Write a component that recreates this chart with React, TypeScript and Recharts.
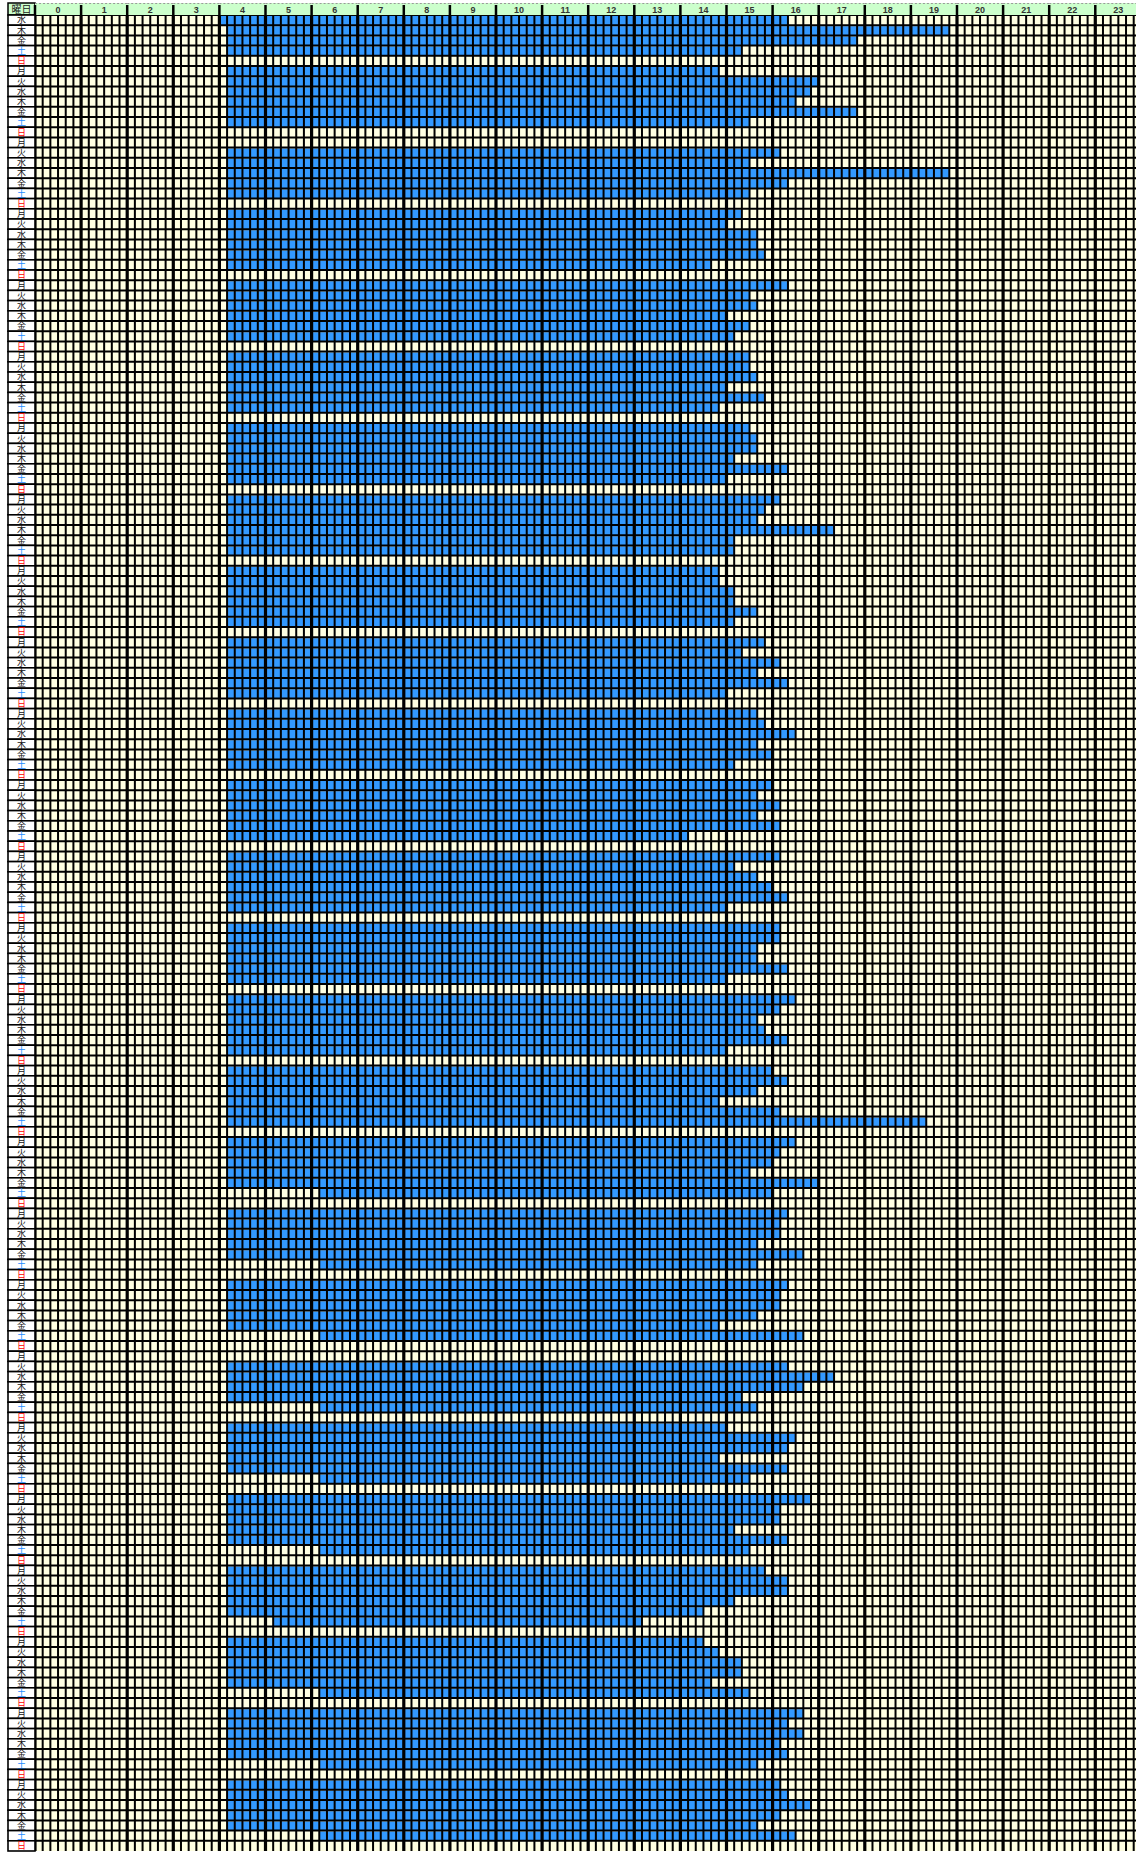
import React from "react";
import { Bar, BarChart, CartesianGrid, ReferenceLine, XAxis, YAxis } from "recharts";

// Daily time sheet: one row per day, a blue bar from start to end time,
// drawn over a 10-minute grid (0–24h).

const weekdayCycle = "月火水木金土日";
// first week starts on Wednesday, then 25 full weeks
const dayLabels = ("水木金土日" + weekdayCycle.repeat(25)).split("");

const hourLabels = [
  0, 1, 2, 3, 4, 5, 6, 7, 8, 9, 10, 11, 12, 13, 14, 15, 16, 17, 18, 19, 20, 21, 22, 23,
];

// "" = no bar that day
const startTimes = [
  "4:00", "4:10", "4:10", "4:10", "",
  "4:10", "4:10", "4:10", "4:10", "4:10", "4:10", "",
  "", "4:10", "4:10", "4:10", "4:10", "4:10", "",
  "4:10", "4:10", "4:10", "4:10", "4:10", "4:10", "",
  "4:10", "4:10", "4:10", "4:10", "4:10", "4:10", "",
  "4:10", "4:10", "4:10", "4:10", "4:10", "4:10", "",
  "4:10", "4:10", "4:10", "4:10", "4:10", "4:10", "",
  "4:10", "4:10", "4:10", "4:10", "4:10", "4:10", "",
  "4:10", "4:10", "4:10", "4:10", "4:10", "4:10", "",
  "4:10", "4:10", "4:10", "4:10", "4:10", "4:10", "",
  "4:10", "4:10", "4:10", "4:10", "4:10", "4:10", "",
  "4:10", "4:10", "4:10", "4:10", "4:10", "4:10", "",
  "4:10", "4:10", "4:10", "4:10", "4:10", "4:10", "",
  "4:10", "4:10", "4:10", "4:10", "4:10", "4:10", "",
  "4:10", "4:10", "4:10", "4:10", "4:10", "4:10", "",
  "4:10", "4:10", "4:10", "4:10", "4:10", "4:10", "",
  "4:10", "4:10", "4:10", "4:10", "4:10", "6:10", "",
  "4:10", "4:10", "4:10", "4:10", "4:10", "6:10", "",
  "4:10", "4:10", "4:10", "4:10", "4:10", "6:10", "",
  "", "4:10", "4:10", "4:10", "4:10", "6:10", "",
  "4:10", "4:10", "4:10", "4:10", "4:10", "6:10", "",
  "4:10", "4:10", "4:10", "4:10", "4:10", "6:10", "",
  "4:10", "4:10", "4:10", "4:10", "4:10", "5:10", "",
  "4:10", "4:10", "4:10", "4:10", "4:10", "6:10", "",
  "4:10", "4:10", "4:10", "4:10", "4:10", "6:10", "",
  "4:10", "4:10", "4:10", "4:10", "4:10", "6:10", "",
];

const endTimes = [
  "16:20", "19:50", "17:50", "15:20", "",
  "14:50", "17:00", "16:50", "16:30", "17:50", "15:30", "",
  "", "16:10", "15:30", "19:50", "16:20", "15:30", "",
  "15:20", "15:00", "15:40", "15:40", "15:50", "14:40", "",
  "16:20", "15:30", "15:40", "15:00", "15:30", "15:10", "",
  "15:30", "15:30", "15:40", "15:00", "15:50", "14:50", "",
  "15:30", "15:40", "15:40", "15:10", "16:20", "15:00", "",
  "16:10", "15:50", "15:40", "17:20", "15:10", "15:10", "",
  "14:50", "14:50", "15:10", "15:10", "15:40", "15:10", "",
  "15:50", "15:20", "16:10", "15:40", "16:20", "15:00", "",
  "15:40", "15:50", "16:30", "15:40", "16:00", "15:10", "",
  "16:00", "15:40", "16:10", "15:40", "16:10", "14:10", "",
  "16:10", "15:10", "15:40", "16:00", "16:20", "15:00", "",
  "16:10", "16:10", "15:40", "15:40", "16:20", "15:00", "",
  "16:30", "16:10", "15:40", "15:50", "16:20", "15:00", "",
  "16:00", "16:20", "15:40", "14:50", "16:10", "19:20", "",
  "16:30", "16:10", "16:00", "15:30", "17:00", "16:00", "",
  "16:20", "16:10", "16:10", "15:40", "16:40", "15:40", "",
  "16:20", "16:10", "16:10", "15:40", "14:50", "16:40", "",
  "", "16:20", "17:20", "16:40", "15:20", "15:40", "",
  "15:00", "16:30", "16:20", "14:50", "16:20", "15:30", "",
  "16:50", "16:10", "16:10", "15:10", "16:20", "15:30", "",
  "15:50", "16:20", "16:20", "15:10", "14:30", "13:10", "",
  "14:30", "14:50", "15:20", "15:20", "14:40", "15:30", "",
  "16:40", "16:20", "16:40", "16:10", "16:20", "15:40", "",
  "16:10", "16:20", "16:50", "16:10", "15:40", "16:30", "",
];

const toHours = (t: string) => {
  const [h, m] = t.split(":").map(Number);
  return h + m / 60;
};

const rows = endTimes.map((end, i) => ({
  idx: i,
  range: end && startTimes[i] ? [toHours(startTimes[i]), toHours(end)] : null,
}));

// sheet geometry
const ROW_H = 10.2;
const HOUR_W = 46.1;
const LABEL_W = 27;
const HEAD_H = 12;
const TOP = 3;
const LEFT = 8;
const W = LEFT + LABEL_W + HOUR_W * 24 + 1;
const H = TOP + HEAD_H + ROW_H * dayLabels.length + 1;
const MARGIN = { top: TOP, right: 1, bottom: 1, left: LEFT };

const BLUE = "#3399FF";
const CREAM = "#FFFFE2";
const GREEN = "#CCFFCC";

const hourCenters = hourLabels.map((h) => h + 0.5);
const hourLines = [...hourLabels, 24];
const minorLines = Array.from({ length: 24 * 6 }, (_, i) => i / 6).filter((_, i) => i % 6 !== 0);

const HourTick = (props: any) => {
  const { x, payload } = props;
  const h = Math.floor(payload.value);
  const x0 = x - HOUR_W / 2;
  return (
    <g>
      {h === 0 && (
        <g>
          <rect x={x0 - LABEL_W} y={TOP} width={LABEL_W} height={HEAD_H} fill={GREEN} stroke="#000" strokeWidth={1.5} />
          <text x={x0 - LABEL_W / 2} y={TOP + 10} textAnchor="middle" fontSize={10} fill="#222" fontFamily="'Noto Sans CJK JP', sans-serif">
            曜日
          </text>
        </g>
      )}
      <rect x={x0} y={TOP} width={HOUR_W} height={HEAD_H} fill={GREEN} />
      <line x1={x0} x2={x0 + HOUR_W} y1={TOP + 0.5} y2={TOP + 0.5} stroke="#999" strokeDasharray="2 2" />
      <line x1={x0} x2={x0} y1={TOP + 2} y2={TOP + HEAD_H} stroke="#000" strokeWidth={2.5} />
      <text x={x} y={TOP + 10} textAnchor="middle" fontSize={9} fontWeight="bold" fill="#333" fontFamily="'Liberation Sans', Arial, sans-serif">
        {hourLabels[h]}
      </text>
    </g>
  );
};

const DayTick = (props: any) => {
  const { y, payload } = props;
  const label = dayLabels[payload.value];
  const color = label === "日" ? "#FF0000" : label === "土" ? "#1E8CFF" : "#111";
  return (
    <g>
      <rect x={LEFT} y={y - ROW_H / 2} width={LABEL_W} height={ROW_H} fill="#fff" stroke="#000" strokeWidth={1.6} />
      <text x={LEFT + LABEL_W / 2} y={y + 3.3} textAnchor="middle" fontSize={9} fill={color} fontFamily="'Noto Sans CJK JP', sans-serif">
        {label}
      </text>
    </g>
  );
};

export default function App() {
  return (
    <div style={{ position: "fixed", left: 0, top: 0, width: 1136, height: 1852, overflow: "hidden", background: "#fff" }}>
      <BarChart layout="vertical" width={W} height={H} data={rows} margin={MARGIN} barCategoryGap={0} barGap={0}>
        <CartesianGrid fill={CREAM} horizontal={false} vertical={false} />
        <XAxis
          type="number"
          orientation="top"
          domain={[0, 24]}
          allowDataOverflow
          ticks={hourCenters}
          interval={0}
          height={HEAD_H}
          tick={<HourTick />}
          axisLine={false}
          tickLine={false}
        />
        <YAxis
          type="category"
          dataKey="idx"
          width={LABEL_W}
          interval={0}
          tick={<DayTick />}
          axisLine={false}
          tickLine={false}
        />
        <Bar dataKey="range" fill={BLUE} barSize={ROW_H} isAnimationActive={false} />

        {/* 10-minute and hour grid, drawn over the bars */}
        {minorLines.map((t) => (
          <ReferenceLine key={`m${t}`} x={t} stroke="#000" strokeWidth={2} />
        ))}
        {rows.map((r) => (
          <ReferenceLine key={`r${r.idx}`} y={r.idx} position="start" stroke="#000" strokeWidth={2} />
        ))}
        <ReferenceLine y={rows.length - 1} position="end" stroke="#000" strokeWidth={2} />
        {hourLines.map((h) => (
          <ReferenceLine key={`h${h}`} x={h} stroke="#000" strokeWidth={3.2} />
        ))}
      </BarChart>
    </div>
  );
}
